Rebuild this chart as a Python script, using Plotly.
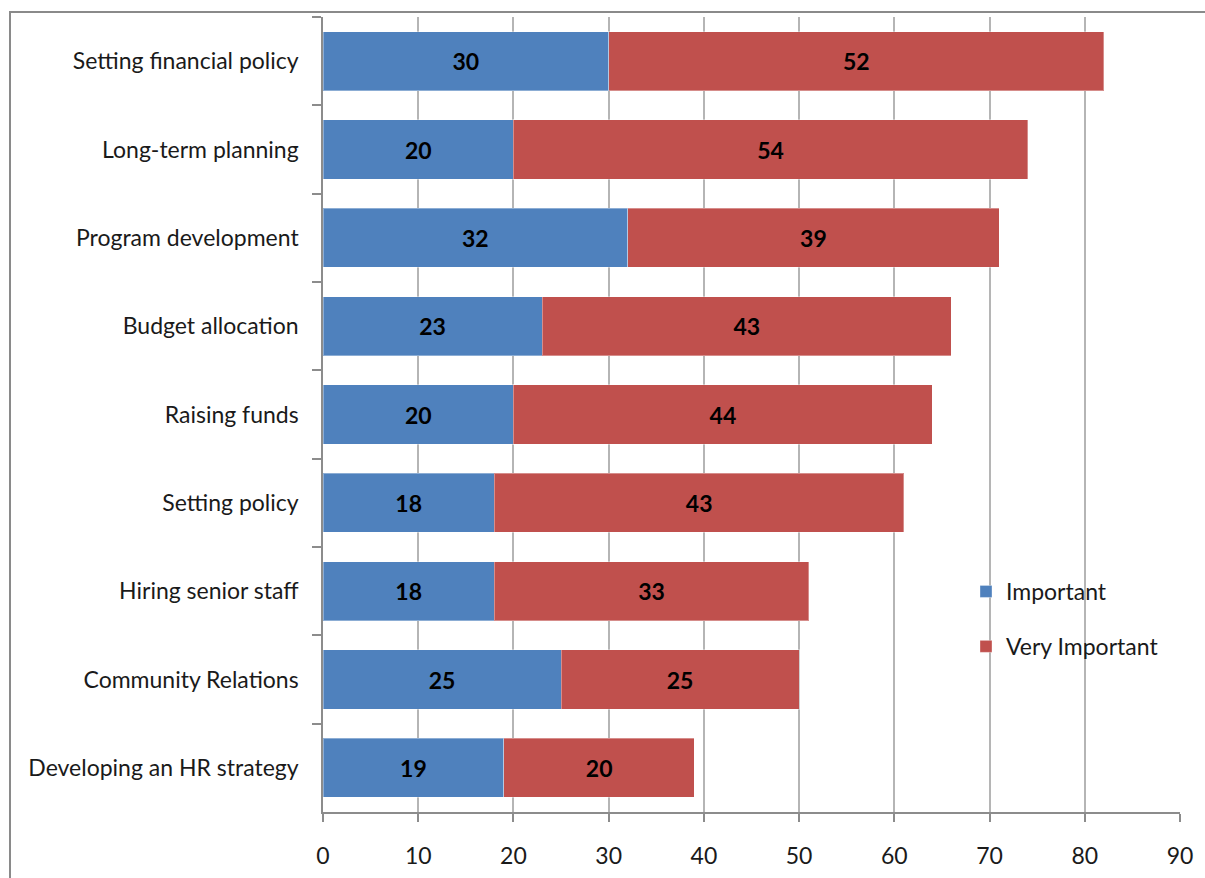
import plotly.graph_objects as go

categories = [
    "Setting financial policy",
    "Long-term planning",
    "Program development",
    "Budget allocation",
    "Raising funds",
    "Setting policy",
    "Hiring senior staff",
    "Community Relations",
    "Developing an HR strategy",
]
important = [30, 20, 32, 23, 20, 18, 18, 25, 19]
very_important = [52, 54, 39, 43, 44, 43, 33, 25, 20]
x_ticks = [0, 10, 20, 30, 40, 50, 60, 70, 80, 90]

FONT = "Lato"
BLUE = "#4F81BD"
RED = "#C0504D"
AXIS = "#8C8C8C"
GRID = "#B5B5B5"
TXT = "#1a1a1a"

fig = go.Figure()
for name, vals, color in [("Important", important, BLUE), ("Very Important", very_important, RED)]:
    fig.add_trace(go.Bar(
        name=name,
        y=categories,
        x=vals,
        orientation="h",
        marker=dict(color=color, line=dict(color="rgba(255,255,255,0.35)", width=1)),
        text=[str(v) for v in vals],
        textposition="inside",
        insidetextanchor="middle",
        textangle=0,
        textfont=dict(family=FONT, size=23, color="black", weight="bold"),
        legendgroup=name,
    ))

# Plot area geometry in pixels (for the outer frame shape)
L, R, T, B = 323, 1180, 17, 812
W, H = R - L, B - T

def px_x(p):
    return (p - L) / W

def px_y(p):
    return (B - p) / H

fig.update_layout(
    barmode="stack",
    width=1205,
    height=878,
    margin=dict(l=L, r=1205 - R, t=T, b=878 - B),
    paper_bgcolor="white",
    plot_bgcolor="white",
    bargap=0.33,
    font=dict(family=FONT, size=23, color=TXT),
    uniformtext=dict(minsize=23, mode="show"),
    showlegend=True,
    legend=dict(
        x=px_x(966), y=px_y(570), xanchor="left", yanchor="top",
        font=dict(family=FONT, size=23, color=TXT),
        bgcolor="rgba(0,0,0,0)",
        traceorder="grouped",
        tracegroupgap=22,
        itemwidth=30,
    ),
    xaxis=dict(
        range=[0, 90],
        tickvals=x_ticks,
        automargin=False,
        showgrid=True,
        gridcolor=GRID,
        gridwidth=1.5,
        zeroline=False,
        showline=True,
        linecolor=AXIS,
        linewidth=1.5,
        ticks="outside",
        ticklen=8,
        tickcolor=AXIS,
        tickwidth=1.5,
        ticklabelstandoff=15,
        tickfont=dict(family=FONT, size=23, color=TXT),
    ),
    yaxis=dict(
        categoryorder="array",
        categoryarray=categories,
        autorange="reversed",
        automargin=False,
        showgrid=False,
        showline=True,
        linecolor=AXIS,
        linewidth=1.5,
        ticks="outside",
        tickson="boundaries",
        ticklen=9,
        tickcolor=AXIS,
        tickwidth=1.5,
        ticklabelstandoff=18,
        tickfont=dict(family=FONT, size=23, color=TXT),
    ),
    shapes=[
        # outer chart frame
        dict(type="rect", xref="paper", yref="paper",
             x0=px_x(10), x1=px_x(1215), y0=px_y(890), y1=px_y(12),
             line=dict(color="#8A8A8A", width=2), fillcolor="rgba(0,0,0,0)", layer="below"),
    ],
)

fig.write_html("out.html")
